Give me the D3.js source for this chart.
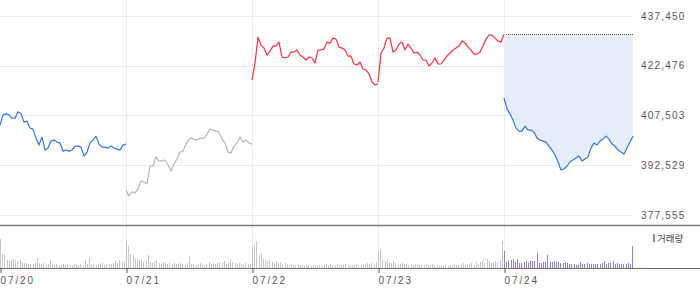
<!DOCTYPE html>
<html><head><meta charset="utf-8">
<script src="https://cdn.jsdelivr.net/npm/d3@7"></script>
<style>
body{margin:0;background:#fff;}
svg{display:block;font-family:"Liberation Sans",Arial,sans-serif;}
</style>
</head><body>
<svg id="c" width="700" height="289"></svg>
<script>
// ---- data ----
const days = ["07/20","07/21","07/22","07/23","07/24"];
const dayTrend = ["down","flat","up","up","down"];
const yTicks = [377555,392529,407503,422476,437450];
const prevClose = 431900;
const volumeLabel = "거래량";

const price0720 = [404600,407700,408000,407700,406700,406700,408600,408000,405500,405800,403700,403400,400700,398600,401000,397100,397700,399800,400100,399500,399200,396800,397100,396800,397100,398300,398300,398000,395300,396500,399200,400100,401300,398900,398000,398000,397700,398300,397700,397400,397100,398600,398900];
const price0721 = [385100,383300,384500,384200,385400,387800,387500,386900,392300,392300,395000,393800,393800,394100,392600,390800,392900,394400,396500,396800,398900,400400,400700,400100,400400,400700,400700,401900,403400,403100,402800,402500,400400,399200,396500,396200,398300,399200,401000,399500,400100,399200,398900];
const price0722 = [418200,423300,431100,428700,427800,425700,426900,428400,428400,429600,425100,424800,425100,426600,426600,427200,425700,425100,424200,425100,424800,423300,427200,427200,427500,429600,429300,430800,430500,428100,427800,427200,425400,425400,423000,422700,423600,421500,421200,420000,417600,416700,417000];
const price0723 = [417600,426300,427800,430800,430800,426600,427200,429000,429600,427200,429000,427800,426300,426600,425700,424200,424200,422400,423300,424800,423000,423000,424200,425400,426300,427200,427800,428400,429900,429300,428100,427200,426000,426000,426600,428400,430500,431700,431700,430800,429900,429600,431900];
const price0724 = [412800,409500,408000,406100,403700,402800,402800,404300,403100,403100,402500,400700,400100,399800,399500,398300,397100,395600,393500,391100,391400,392300,393500,394100,394700,395300,393800,394400,395000,397700,399200,398600,399800,400400,401300,400400,398900,398300,397100,396500,395900,397700,399500,401300];

const vol0720 = [29,14,13,8,7,8,9,8,7,8,6,5,5,4,4,4,5,10,5,4,5,4,4,8,4,3,4,3,3,4,3,4,3,3,4,4,3,4,3,8,4,10,4,4,3,4,4,5,3,4,4,4,5,7,5,8,6,7];
const vol0721 = [27,22,14,13,9,9,8,8,6,7,13,6,5,6,7,5,4,6,5,4,5,4,5,4,4,5,4,3,5,12,4,4,3,4,5,4,3,4,6,4,5,4,5,6,5,7,4,5,8,6,5,4,5,4,4,5,4,4];
const vol0722 = [21,23,27,13,15,9,8,7,8,6,5,7,5,6,4,5,4,3,4,3,3,4,3,3,2,3,3,2,3,2,3,3,2,3,4,3,4,3,2,4,3,3,3,4,3,2,3,3,4,3,3,4,4,5,4,5,4,6];
const vol0723 = [17,19,8,7,9,6,5,7,5,4,4,5,4,4,3,4,3,4,4,3,3,3,4,3,3,4,3,3,2,3,2,3,2,3,3,4,3,3,4,5,3,4,4,5,3,6,4,6,7,5,9,7,5,6,7,5,8,27];
const vol0724 = [17,6,8,8,9,6,9,5,5,6,7,5,7,7,7,15,5,5,6,6,13,6,6,7,6,6,5,5,6,5,4,4,4,3,3,6,4,4,5,4,4,4,4,4,4,5,7,4,5,5,7,4,5,4,4,4,4,5,4,22];

const priceByDay = [price0720,price0721,price0722,price0723,price0724];
const volByDay = [vol0720,vol0721,vol0722,vol0723,vol0724];

// ---- chart ----
const colors = {down:"#3574dc", up:"#f2333e", flat:"#b5b5b5"};
const svg = d3.select("#c");
const x = d3.scaleLinear().domain([0,5]).range([0,630]);
const y = d3.scaleLinear().domain([377555,437450]).range([215,16]);
const yv = d3.scaleLinear().domain([0,40]).range([268,228]);
const PTS = 42, VB = 58;

const priceData = priceByDay.map((arr,d)=>arr.map((v,i)=>({t:d+i/PTS, v})));
const volData = volByDay.flatMap((arr,d)=>arr.map((v,i)=>({t:d+i/VB, v, d})));

// grid
svg.append("g").selectAll("line").data(yTicks).join("line")
  .attr("x1",0).attr("x2",632)
  .attr("y1",d=>Math.round(y(d))+0.5).attr("y2",d=>Math.round(y(d))+0.5)
  .attr("stroke","#ebebeb").attr("stroke-width",1);
svg.append("g").selectAll("line").data([1,2,3,4]).join("line")
  .attr("x1",d=>Math.round(x(d))+0.5).attr("x2",d=>Math.round(x(d))+0.5)
  .attr("y1",0).attr("y2",268)
  .attr("stroke","#ebebeb").attr("stroke-width",1);

// fill for last day vs previous close
const last = priceData[4];
svg.append("path").datum(last)
  .attr("d", d3.area().x(d=>x(d.t)).y0(y(prevClose)).y1(d=>y(d.v)))
  .attr("fill","#e5edf9");
svg.append("line")
  .attr("x1",x(last[0].t)+2).attr("x2",x(last[last.length-1].t))
  .attr("y1",Math.round(y(prevClose))+0.5).attr("y2",Math.round(y(prevClose))+0.5)
  .attr("stroke","#555").attr("stroke-width",1).attr("stroke-dasharray","1,1");

// price lines
const line = d3.line().x(d=>x(d.t)).y(d=>y(d.v));
svg.append("g").selectAll("path").data(priceData).join("path")
  .attr("d",line).attr("fill","none")
  .attr("stroke",(d,i)=>colors[dayTrend[i]])
  .attr("stroke-width",1.2).attr("stroke-linejoin","round");

// volume bars
svg.append("g").selectAll("rect").data(volData).join("rect")
  .attr("x",d=>Math.round(x(d.t))).attr("width",1)
  .attr("y",d=>yv(d.v)).attr("height",d=>yv(0)-yv(d.v))
  .attr("fill",d=>d.d===4?"#8f7fc6":"#c6c6c6");

// frame lines
svg.append("line").attr("x1",0).attr("x2",700).attr("y1",225.5).attr("y2",225.5)
  .attr("stroke","#7a7a7a").attr("stroke-width",1.3);
svg.append("line").attr("x1",0).attr("x2",700).attr("y1",268.5).attr("y2",268.5)
  .attr("stroke","#6e6e6e").attr("stroke-width",1);

// y axis (right labels)
const ya = svg.append("g").attr("transform","translate(640,0)")
  .call(d3.axisRight(y).tickValues(yTicks).tickFormat(d3.format(",")).tickSize(0).tickPadding(1));
ya.select(".domain").remove();
ya.selectAll("text").attr("fill","#555").style("font-size","10px").style("letter-spacing","1.2px")
  .style("font-family","'Liberation Sans',Arial,sans-serif");

// x axis (dates)
const xa = svg.append("g").attr("transform","translate(0,268)")
  .call(d3.axisBottom(x).tickValues([0,1,2,3,4]).tickFormat(i=>days[i]).tickSize(5).tickPadding(11));
xa.select(".domain").remove();
xa.selectAll(".tick line").attr("stroke","#555").attr("transform","translate(0.5,0)");
xa.selectAll("text").attr("fill","#555").attr("text-anchor","start").attr("dy",null)
  .style("font-size","10px").style("letter-spacing","1.9px")
  .style("font-family","'Liberation Sans',Arial,sans-serif");

// legend
svg.append("rect").attr("x",653).attr("y",234).attr("width",2).attr("height",8).attr("fill","#8f7fc6");
svg.append("text").attr("x",657).attr("y",241.5).text(volumeLabel)
  .attr("fill","#444").style("font-size","9.5px")
  .style("font-family","'Noto Sans CJK KR',sans-serif");
</script>
</body></html>
